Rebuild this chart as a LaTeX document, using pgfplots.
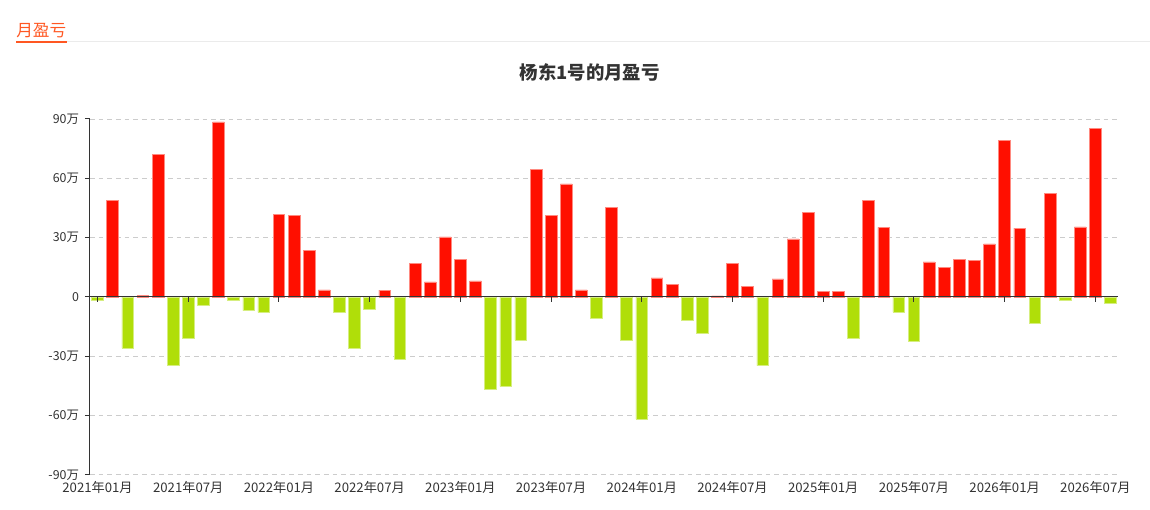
\documentclass[border=0pt]{standalone}
\usepackage{pgfplots}
\pgfplotsset{compat=1.18}
\usepackage{fontspec}
\setmainfont{Noto Sans CJK SC}
\definecolor{barred}{HTML}{FF0F00}
\definecolor{baredge}{HTML}{FF8A80}
\definecolor{bargreen}{HTML}{B0DE09}
\definecolor{greenedge}{HTML}{D6EE80}
\definecolor{txt}{HTML}{333333}
\definecolor{gridc}{HTML}{CCCCCC}
\definecolor{hdr}{HTML}{FF5722}
\begin{document}
\begin{tikzpicture}
\path (0,0) rectangle (862.5pt,382.5pt);
% header
\node[anchor=west, inner sep=0pt, text=hdr, font=\fontsize{12.5}{14}\selectfont] at (12pt,359.5pt) {月盈亏};
\fill[hdr] (12pt,350.5pt) rectangle (50.5pt,352pt);
\draw[color=black!8, line width=0.75pt] (50.5pt,351pt) -- (862.5pt,351pt);
% title
\node[text=txt, font=\fontsize{13.8}{16}\selectfont\bfseries] at (442.5pt,328.5pt) {杨东1号的月盈亏};
\begin{axis}[
  at={(67.5pt,26.25pt)}, anchor=south west,
  scale only axis, width=771.4pt, height=267pt,
  xmin=-0.5, xmax=67.5, ymin=-90, ymax=90,
  axis x line=none,
  axis y line*=left,
  y axis line style={draw=txt, line width=0.75pt, -},
  ytick={-90,-60,-30,0,30,60,90},
  yticklabels={-90万,-60万,-30万,0,30万,60万,90万},
  ytick style={draw=txt, line width=0.75pt},
  tick align=outside, major tick length=3.75pt,
  ymajorgrids, grid style={gridc, dash pattern=on 3.5pt off 3pt, line width=0.6pt},
  yticklabel style={font=\fontsize{9.3}{10}\selectfont, text=txt, xshift=-1pt},
  /pgf/number format/assume math mode=true,
  clip=false,
  ybar, bar width=8.8pt,
]
\addplot[bar shift=0pt, fill=barred, draw=baredge, line width=0.5pt] coordinates {
(1,48.7) (3,0.8) (4,72.1) (8,88.5) (12,41.5) (13,41.0) (14,23.4) (15,3.5)
(19,3.4) (21,17.0) (22,7.6) (23,30.3) (24,19.0) (25,8.1) (29,64.5) (30,41.2)
(31,57.1) (32,3.5) (34,45.3) (37,9.6) (38,6.4) (41,0.5) (42,17.0) (43,5.4)
(45,9.1) (46,29.3) (47,42.6) (48,2.9) (49,2.7) (51,49.0) (52,35.2) (55,17.7)
(56,15.0) (57,19.0) (58,18.4) (59,26.8) (60,79.3) (61,34.8) (63,52.4) (65,35.4)
(66,85.2)
};
\addplot[bar shift=0pt, fill=bargreen, draw=greenedge, line width=0.5pt] coordinates {
(0,-1.5) (2,-26.0) (5,-34.4) (6,-20.9) (7,-4.2) (9,-2.0) (10,-6.9) (11,-7.9)
(16,-7.8) (17,-26.0) (18,-6.1) (20,-31.8) (26,-46.6) (27,-45.3) (28,-21.9)
(33,-10.9) (35,-22.1) (36,-61.8) (39,-11.8) (40,-18.5) (44,-34.8) (50,-20.9)
(53,-7.7) (54,-22.7) (62,-13.3) (64,-1.9) (67,-3.5)
};
\draw[txt, line width=0.75pt] (axis cs:-0.5,0) -- (axis cs:67.5,0);
\pgfplotsinvokeforeach{0,6,12,18,24,30,36,42,48,54,60,66}{
  \draw[txt, line width=0.75pt] (axis cs:#1,0) -- ([yshift=-3.5pt]axis cs:#1,0);
}
\pgfplotsforeachungrouped \i/\lab in {0/2021年01月,6/2021年07月,12/2022年01月,18/2022年07月,24/2023年01月,30/2023年07月,36/2024年01月,42/2024年07月,48/2025年01月,54/2025年07月,60/2026年01月,66/2026年07月}{
  \edef\tmp{\noexpand\node[anchor=north, text=txt, inner sep=0pt, font=\noexpand\fontsize{9.9}{11}\noexpand\selectfont] at (axis cs:\i,-90) [yshift=-4.5pt] {\lab};}
  \tmp
}
\end{axis}
\end{tikzpicture}
\end{document}
